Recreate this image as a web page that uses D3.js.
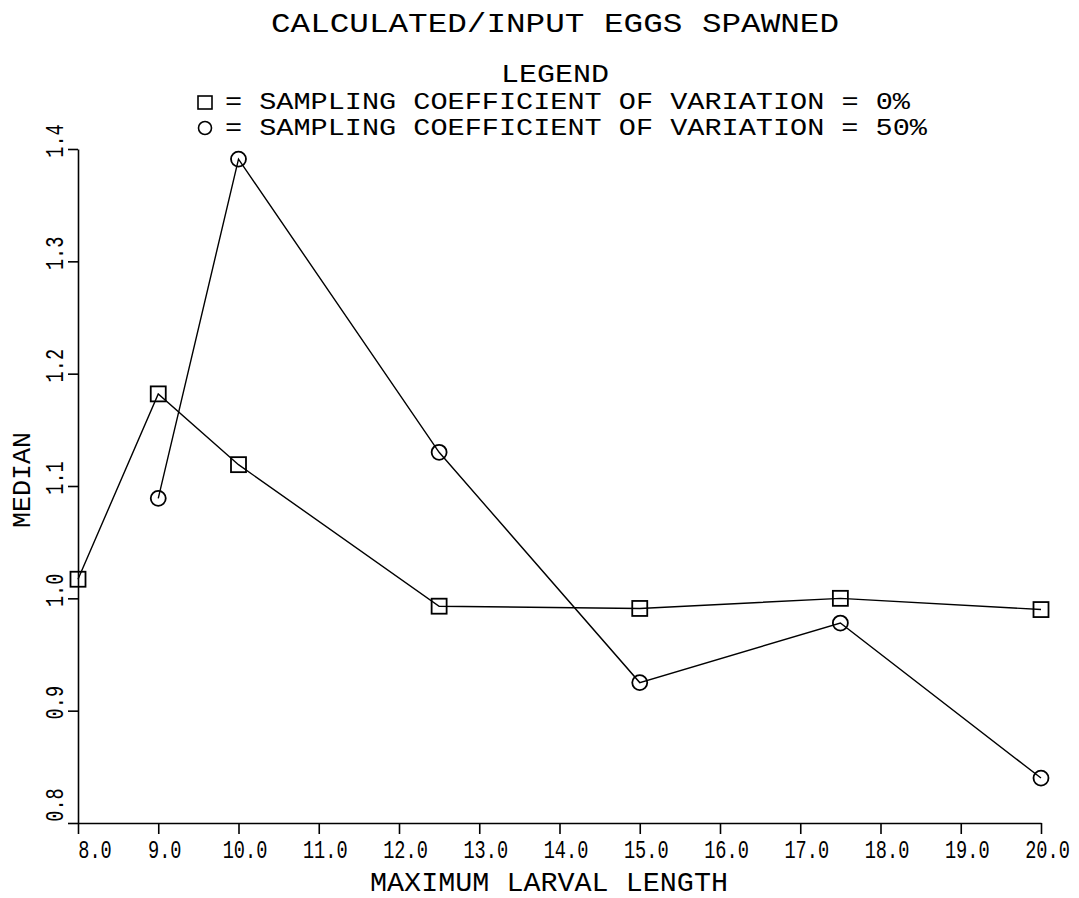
<!DOCTYPE html>
<html>
<head>
<meta charset="utf-8">
<script src="https://cdn.jsdelivr.net/npm/d3@7"></script>
<style>
  html, body { margin: 0; padding: 0; background: #fff; }
  svg { display: block; }
  text { font-family: "Liberation Mono", "DejaVu Sans Mono", monospace; fill: #000; }
</style>
</head>
<body>
<svg id="chart" width="1079" height="898"></svg>
<script>
// Maximum larval length (x) and median calculated/input eggs spawned (y)
const lengths = [8.0, 9.0, 10.0, 12.5, 15.0, 17.5, 20.0];
const medianCv0 = [1.017, 1.182, 1.119, 0.993, 0.991, 1.000, 0.990];
const medianCv50 = [null, 1.089, 1.391, 1.130, 0.925, 0.978, 0.840];

const xTicks = [8, 9, 10, 11, 12, 13, 14, 15, 16, 17, 18, 19, 20];
const yTicks = [0.8, 0.9, 1.0, 1.1, 1.2, 1.3, 1.4];

const titleText = "CALCULATED/INPUT EGGS SPAWNED";
const legendTitle = "LEGEND";
const legendLabels = [
  "= SAMPLING COEFFICIENT OF VARIATION = 0%",
  "= SAMPLING COEFFICIENT OF VARIATION = 50%"
];
const xTitle = "MAXIMUM LARVAL LENGTH";
const yTitle = "MEDIAN";

const svg = d3.select("#chart");

const x = d3.scaleLinear().domain([8, 20]).range([78, 1041]);
const y = d3.scaleLinear().domain([0.8, 1.4]).range([823, 149]);

const ink = "#000";

// Axes
const xAxis = svg.append("g")
  .attr("transform", `translate(0,${y(0.8)})`)
  .call(d3.axisBottom(x).tickValues(xTicks).tickSize(11).tickSizeOuter(0).tickFormat(""));
const yAxis = svg.append("g")
  .attr("transform", `translate(${x(8)},0)`)
  .call(d3.axisLeft(y).tickValues(yTicks).tickSize(10).tickSizeOuter(0).tickFormat(""));
[xAxis, yAxis].forEach(g => {
  g.selectAll("path.domain").attr("stroke", ink).attr("stroke-width", 1.6);
  g.selectAll(".tick line").attr("stroke", ink).attr("stroke-width", 1.6);
});

// Tick labels: narrow glyphs via a horizontal squeeze; the first label on
// each axis is nudged away from the origin
const fmt = d3.format(".1f");
const squeeze = 0.745;
svg.append("g").selectAll("text")
  .data(xTicks)
  .join("text")
  .attr("transform", (d, i) => `translate(${x(d) + (i === 0 ? 17 : 6.5)},858) scale(${squeeze},1)`)
  .attr("text-anchor", "middle")
  .attr("font-size", 25)
  .text(d => fmt(d));

svg.append("g").selectAll("text")
  .data(yTicks)
  .join("text")
  .attr("transform", (d, i) => `translate(63,${y(d) - (i === 0 ? 18 : 8)}) rotate(-90) scale(${squeeze},1)`)
  .attr("text-anchor", "middle")
  .attr("font-size", 25)
  .text(d => fmt(d));

// Axis titles
svg.append("text")
  .attr("x", 370).attr("y", 891)
  .attr("font-size", 27)
  .attr("textLength", 358).attr("lengthAdjust", "spacingAndGlyphs")
  .text(xTitle);

svg.append("text")
  .attr("transform", "translate(30,480) rotate(-90)")
  .attr("text-anchor", "middle")
  .attr("font-size", 26)
  .attr("textLength", 96).attr("lengthAdjust", "spacingAndGlyphs")
  .text(yTitle);

// Title and legend
svg.append("text")
  .attr("x", 271).attr("y", 32)
  .attr("font-size", 28)
  .attr("textLength", 568).attr("lengthAdjust", "spacingAndGlyphs")
  .text(titleText);

svg.append("text")
  .attr("x", 501).attr("y", 82)
  .attr("font-size", 25)
  .attr("textLength", 108).attr("lengthAdjust", "spacingAndGlyphs")
  .text(legendTitle);

const legendRows = [
  { label: legendLabels[0], shape: "square", base: 109, len: 685 },
  { label: legendLabels[1], shape: "circle", base: 135, len: 702 }
];
legendRows.forEach(r => {
  if (r.shape === "square") {
    svg.append("rect").attr("x", 198).attr("y", r.base - 13).attr("width", 14).attr("height", 13)
      .attr("fill", "none").attr("stroke", ink).attr("stroke-width", 1.6);
  } else {
    svg.append("circle").attr("cx", 205).attr("cy", r.base - 7).attr("r", 6.5)
      .attr("fill", "none").attr("stroke", ink).attr("stroke-width", 1.6);
  }
  svg.append("text")
    .attr("x", 225).attr("y", r.base)
    .attr("font-size", 23)
    .attr("textLength", r.len).attr("lengthAdjust", "spacingAndGlyphs")
    .text(r.label);
});

// Series
const line = d3.line()
  .defined(d => d[1] !== null)
  .x(d => x(d[0]))
  .y(d => y(d[1]));

const cv0 = lengths.map((l, i) => [l, medianCv0[i]]);
const cv50 = lengths.map((l, i) => [l, medianCv50[i]]).filter(d => d[1] !== null);

svg.append("path").datum(cv0).attr("d", line)
  .attr("fill", "none").attr("stroke", ink).attr("stroke-width", 1.4);
svg.append("path").datum(cv50).attr("d", line)
  .attr("fill", "none").attr("stroke", ink).attr("stroke-width", 1.4);

svg.append("g").selectAll("rect")
  .data(cv0)
  .join("rect")
  .attr("x", d => x(d[0]) - 7.5)
  .attr("y", d => y(d[1]) - 7.5)
  .attr("width", 15).attr("height", 15)
  .attr("fill", "none").attr("stroke", ink).attr("stroke-width", 1.8);

svg.append("g").selectAll("circle")
  .data(cv50)
  .join("circle")
  .attr("cx", d => x(d[0]))
  .attr("cy", d => y(d[1]))
  .attr("r", 7.5)
  .attr("fill", "none").attr("stroke", ink).attr("stroke-width", 1.8);
</script>
</body>
</html>
